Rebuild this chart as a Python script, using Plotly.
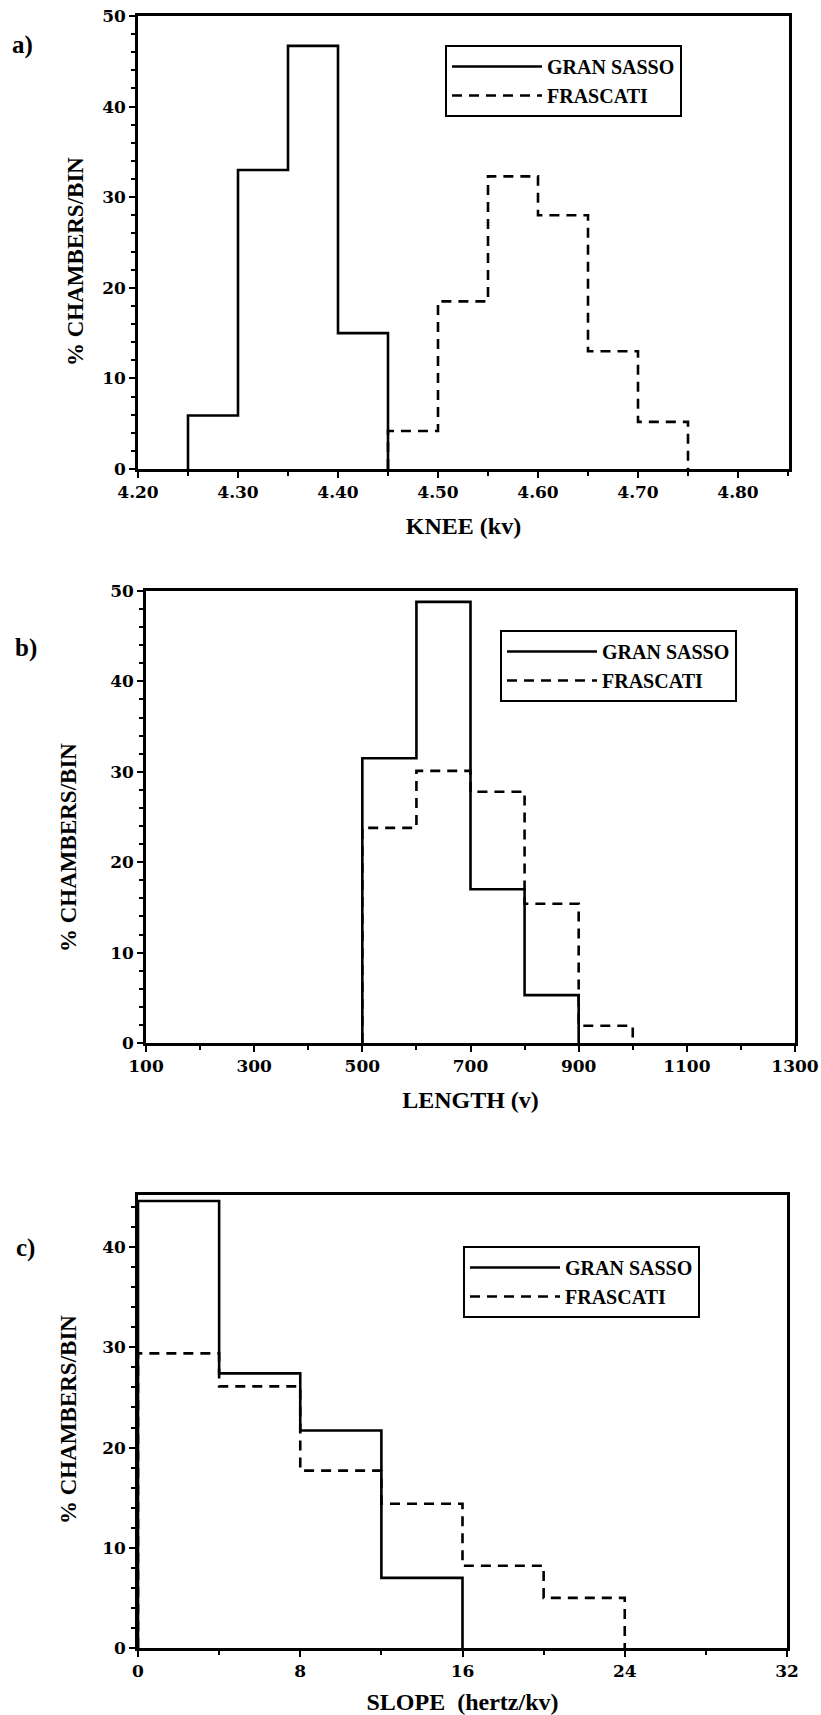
import plotly.graph_objects as go

# ---------------- data ----------------
series_names = ["GRAN SASSO", "FRASCATI"]

# a) KNEE (kv)
knee_edges_gs = [4.25, 4.30, 4.35, 4.40, 4.45]
knee_gs = [5.9, 33.0, 46.7, 15.0]
knee_edges_fr = [4.45, 4.50, 4.55, 4.60, 4.65, 4.70, 4.75]
knee_fr = [4.2, 18.5, 32.3, 28.0, 13.0, 5.2]
knee_ticks = [4.20, 4.30, 4.40, 4.50, 4.60, 4.70, 4.80]

# b) LENGTH (v)
length_edges_gs = [500, 600, 700, 800, 900]
length_gs = [31.5, 48.8, 17.0, 5.3]
length_edges_fr = [500, 600, 700, 800, 900, 1000]
length_fr = [23.8, 30.1, 27.8, 15.4, 1.9]
length_ticks = [100, 300, 500, 700, 900, 1100, 1300]

# c) SLOPE (hertz/kv)
slope_edges_gs = [0, 4, 8, 12, 16]
slope_gs = [44.6, 27.4, 21.7, 7.0]
slope_edges_fr = [0, 4, 8, 12, 16, 20, 24]
slope_fr = [29.4, 26.1, 17.7, 14.4, 8.2, 5.0]
slope_ticks = [0, 8, 16, 24, 32]

y_ticks = [0, 10, 20, 30, 40, 50]
y_ticks_c = [0, 10, 20, 30, 40]

panel_labels = ["a)", "b)", "c)"]
x_titles = ["KNEE (kv)", "LENGTH (v)", "SLOPE  (hertz/kv)"]
y_title = "% CHAMBERS/BIN"

# ---------------- layout constants ----------------
W, H = 821, 1715
TICKFONT = dict(family="DejaVu Serif", size=17, color="black", weight="bold")
TITLEFONT = dict(family="Liberation Serif", size=24, color="black", weight="bold")
YTITLEFONT = dict(family="Liberation Serif", size=23, color="black", weight="bold")
LEGFONT = dict(family="Liberation Serif", size=20, color="black", weight="bold")
LW = 2.6


def step(edges, vals):
    xs = [edges[0]] + list(edges)
    ys = [0] + list(vals) + [0]
    return xs, ys


def px_dom_x(l, r):
    return [l / W, r / W]


def px_dom_y(top, bottom):
    return [1 - bottom / H, 1 - top / H]


fig = go.Figure()

panels = [
    dict(gs=(knee_edges_gs, knee_gs), fr=(knee_edges_fr, knee_fr),
         xrange=[4.20, 4.851], ticks=knee_ticks, fmt=".2f", minor=0.05,
         yrange=[0, 50], yticks=y_ticks,
         dx=px_dom_x(138, 789), dy=px_dom_y(16, 469), xstand=16,
         ytitle_pos=(76, 262), leg=(445, 45), lab=(22, 45)),
    dict(gs=(length_edges_gs, length_gs), fr=(length_edges_fr, length_fr),
         xrange=[100, 1300], ticks=length_ticks, fmt="d", minor=100,
         yrange=[0, 50], yticks=y_ticks,
         dx=px_dom_x(146, 795), dy=px_dom_y(591, 1043), xstand=16,
         ytitle_pos=(68, 848), leg=(500, 630), lab=(26, 648)),
    dict(gs=(slope_edges_gs, slope_gs), fr=(slope_edges_fr, slope_fr),
         xrange=[0, 32], ticks=slope_ticks, fmt="d", minor=4,
         yrange=[0, 45.2], yticks=y_ticks_c,
         dx=px_dom_x(138, 787), dy=px_dom_y(1195, 1648), xstand=17,
         ytitle_pos=(68, 1420), leg=(463, 1246), lab=(26, 1248)),
]

for i, p in enumerate(panels):
    n = "" if i == 0 else str(i + 1)
    xa, ya = "x" + n, "y" + n
    legname = "legend" + n
    for (edges, vals), name, dash in [(p["gs"], series_names[0], "solid"),
                                      (p["fr"], series_names[1], "10px,7px")]:
        xs, ys = step(edges, vals)
        fig.add_trace(go.Scatter(
            x=xs, y=ys, mode="lines", name=name, xaxis=xa, yaxis=ya,
            line=dict(color="black", width=LW, shape="hv", dash=dash),
            legend=legname, hoverinfo="skip"))

    axis_common = dict(showline=True, linecolor="black", linewidth=LW, mirror=True,
                       showgrid=False, zeroline=False, ticks="outside", ticklen=6,
                       tickwidth=2, tickcolor="black", tickfont=TICKFONT,
                       automargin=False)
    fig.layout["xaxis" + n] = dict(
        axis_common, domain=p["dx"], range=p["xrange"], anchor=ya,
        tickmode="array", tickvals=p["ticks"], tickformat=p["fmt"],
        minor=dict(dtick=p["minor"], tick0=p["xrange"][0], ticks="outside",
                   ticklen=4, tickwidth=2, tickcolor="black"),
        title=dict(text=x_titles[i], font=TITLEFONT, standoff=p["xstand"]))
    fig.layout["yaxis" + n] = dict(
        axis_common, domain=p["dy"], range=p["yrange"], anchor=xa,
        tickmode="array", tickvals=p["yticks"],
        minor=dict(dtick=2, tick0=0, ticks="outside", ticklen=4, tickwidth=2,
                   tickcolor="black"))

    # y-axis title (placed as in the original, slightly off-centre)
    tx, ty = p["ytitle_pos"]
    fig.add_annotation(x=tx / W, y=1 - ty / H, xref="paper", yref="paper",
                       text=y_title, textangle=-90, showarrow=False,
                       xanchor="center", yanchor="middle", font=YTITLEFONT)

    lx, ly = p["leg"]
    fig.layout[legname] = dict(
        x=lx / W, y=1 - ly / H, xanchor="left", yanchor="top",
        bgcolor="white", bordercolor="black", borderwidth=2,
        font=LEGFONT, itemwidth=90, tracegroupgap=0)

    ax, ay = p["lab"]
    fig.add_annotation(x=ax / W, y=1 - ay / H, xref="paper", yref="paper",
                       text=panel_labels[i], showarrow=False,
                       xanchor="center", yanchor="middle",
                       font=dict(family="Liberation Serif", size=25, color="black",
                                 weight="bold"))

fig.update_layout(
    width=W, height=H, margin=dict(l=0, r=0, t=0, b=0, autoexpand=False),
    paper_bgcolor="white", plot_bgcolor="white", showlegend=True,
)

fig.write_html("out.html",
               config={"displayModeBar": False},
               post_script="document.body.style.margin='0px';")
